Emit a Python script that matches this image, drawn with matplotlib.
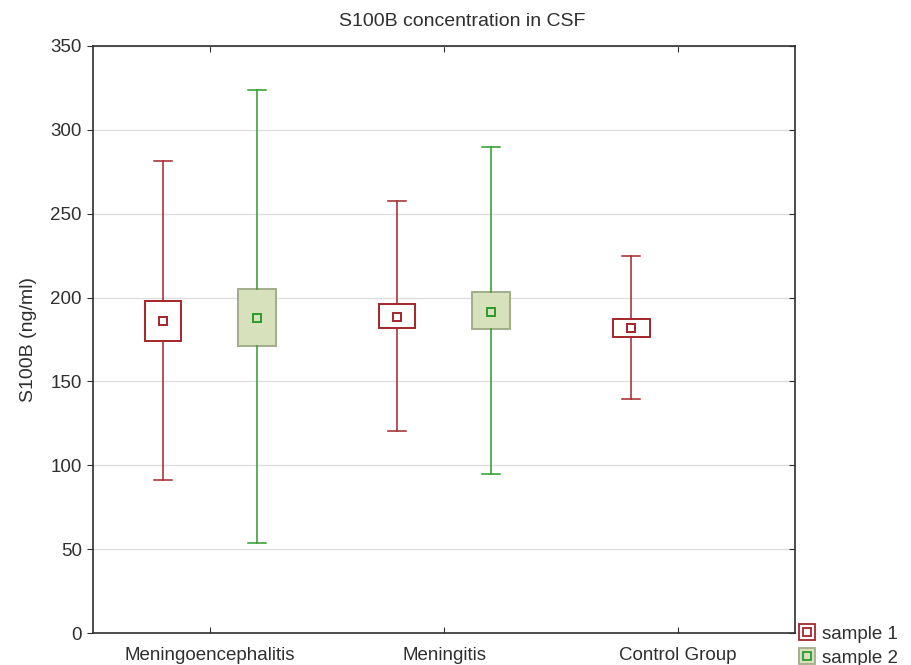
import matplotlib
matplotlib.use("Agg")
import matplotlib.pyplot as plt
from matplotlib.lines import Line2D
from matplotlib.legend_handler import HandlerTuple

plt.rcParams['font.family'] = ['Liberation Sans', 'DejaVu Sans']

# group labels and box statistics
groups = ["Meningoencephalitis", "Meningitis", "Control Group"]

# sample 1 (one per group)
s1_mean = [186, 188.5, 182]
s1_q1 = [174, 182, 176.5]
s1_q3 = [198, 196, 187]
s1_lo = [91.5, 120.5, 139.5]
s1_hi = [281.5, 257.5, 224.5]

# sample 2 (only first two groups)
s2_mean = [188, 191.5]
s2_q1 = [171, 181.5]
s2_q3 = [205, 203.5]
s2_lo = [53.5, 95]
s2_hi = [324, 289.5]

red = "#a3262a"
green = "#2b9c2b"
fill2 = "#d7e2bd"
edge2 = "#a1ad8a"
txt = "#2f2f2f"

fig = plt.figure(figsize=(9.12, 6.65), dpi=100)
ax = fig.add_axes([0.102, 0.048, 0.770, 0.883])


def make_stats(mean, q1, q3, lo, hi):
    return [dict(med=m, mean=m, q1=a, q3=b, whislo=l, whishi=h)
            for m, a, b, l, h in zip(mean, q1, q3, lo, hi)]


off = 0.2
pos1 = [i - off for i in range(len(s1_mean))]
pos2 = [i + off for i in range(len(s2_mean))]

ax.bxp(make_stats(s1_mean, s1_q1, s1_q3, s1_lo, s1_hi), positions=pos1,
       widths=0.155, capwidths=0.077, showfliers=False, showmeans=True,
       patch_artist=True,
       boxprops=dict(facecolor="white", edgecolor=red, linewidth=1.4),
       whiskerprops=dict(color=red, linewidth=1.1),
       capprops=dict(color=red, linewidth=1.1),
       medianprops=dict(linewidth=0),
       meanprops=dict(marker="s", markersize=5.5, markerfacecolor="white",
                      markeredgecolor=red, markeredgewidth=1.4),
       zorder=3)

ax.bxp(make_stats(s2_mean, s2_q1, s2_q3, s2_lo, s2_hi), positions=pos2,
       widths=0.165, capwidths=0.077, showfliers=False, showmeans=True,
       patch_artist=True,
       boxprops=dict(facecolor=fill2, edgecolor=edge2, linewidth=1.4),
       whiskerprops=dict(color=green, linewidth=1.1),
       capprops=dict(color=green, linewidth=1.1),
       medianprops=dict(linewidth=0),
       meanprops=dict(marker="s", markersize=5.5, markerfacecolor=fill2,
                      markeredgecolor=green, markeredgewidth=1.4),
       zorder=3)

ax.set_xlim(-0.5, 2.5)
ax.set_ylim(0, 350)
ax.set_yticks(range(0, 351, 50))
ax.set_xticks(range(len(groups)))
ax.set_xticklabels(groups)
ax.yaxis.grid(True, color="#dedede", linewidth=1)
ax.set_axisbelow(True)

ax.tick_params(axis="y", direction="out", length=4, labelsize=13.5, colors=txt,
               labelcolor=txt, pad=4)
ax.tick_params(axis="x", direction="in", length=4, top=True, labelsize=13.5,
               colors=txt, labelcolor=txt, pad=10)
for sp in ax.spines.values():
    sp.set_color(txt)
    sp.set_linewidth(1.2)

# inward ticks on the right edge
ax_r = ax.twinx()
ax_r.set_ylim(ax.get_ylim())
ax_r.set_yticks(ax.get_yticks())
ax_r.tick_params(axis="y", direction="in", length=4, colors=txt, labelright=False)
ax_r.spines[:].set_visible(False)

fig.text(462 / 912, 1 - 22 / 665, "S100B concentration in CSF", fontsize=14,
         color=txt, ha="center", va="center")
ax.set_ylabel("S100B (ng/ml)", fontsize=14, color=txt, labelpad=10)

h1 = (Line2D([], [], marker="s", linestyle="none", markersize=12,
             markerfacecolor="white", markeredgecolor=red, markeredgewidth=1.3),
      Line2D([], [], marker="s", linestyle="none", markersize=5.5,
             markerfacecolor="white", markeredgecolor=red, markeredgewidth=1.3))
h2 = (Line2D([], [], marker="s", linestyle="none", markersize=12,
             markerfacecolor=fill2, markeredgecolor=edge2, markeredgewidth=1.3),
      Line2D([], [], marker="s", linestyle="none", markersize=5.5,
             markerfacecolor=fill2, markeredgecolor=green, markeredgewidth=1.3))
fig.legend([h1, h2], ["sample 1", "sample 2"], loc="lower left",
           bbox_to_anchor=(0.862, -0.022), frameon=False, fontsize=13.5,
           handler_map={tuple: HandlerTuple(ndivide=1, pad=0)},
           handlelength=0.8, handletextpad=0.4, labelspacing=0.35,
           borderpad=0.2, labelcolor=txt)

fig.savefig("out.png", dpi=100)
